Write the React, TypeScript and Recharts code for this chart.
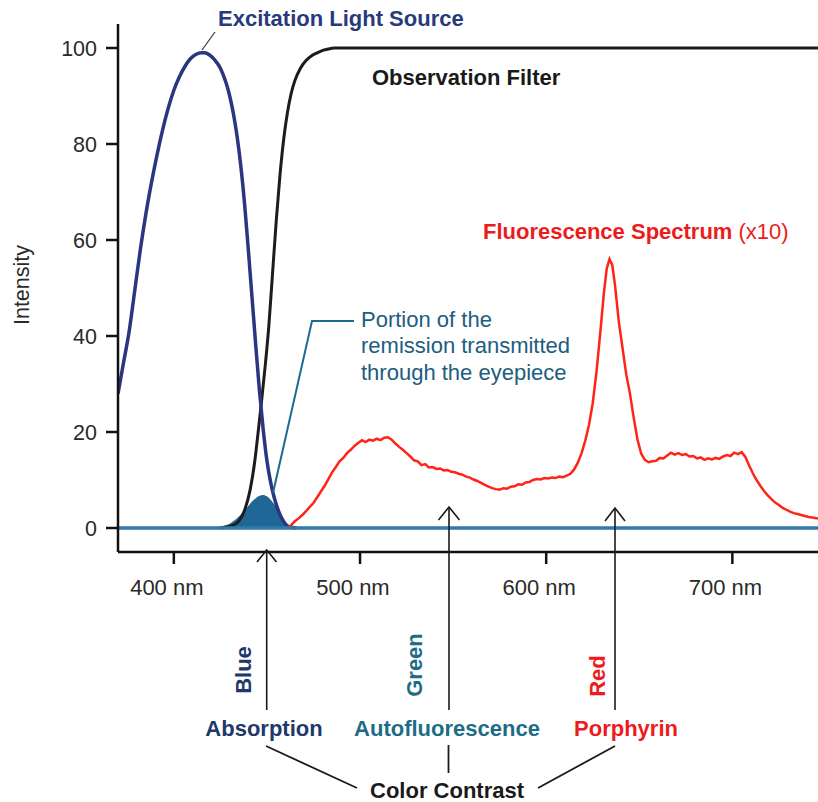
import React from 'react';
import { ComposedChart, Line, Area, XAxis, YAxis } from 'recharts';

const FONT = '"Liberation Sans", Arial, Helvetica, sans-serif';

// Excitation light source (nm, intensity)
const excitationWl = [370, 373, 376, 379, 382, 385, 388, 391, 394, 397, 400, 403, 406, 409, 412, 415, 416.5, 419, 422, 425, 428, 430, 432, 434, 436, 438, 440, 442, 444, 446, 448, 450, 452, 454, 456, 458, 460, 462, 466];
const excitationVal = [28, 34.5, 41, 49.5, 58, 65.5, 72, 77.8, 83, 87.5, 91.2, 94, 96.2, 97.8, 98.7, 99, 99, 98.6, 97.5, 95.8, 92.8, 90, 86.3, 81.5, 75.3, 67.5, 58, 48, 38, 28.5, 20.5, 14, 9.5, 6.2, 3.8, 2, 0.8, 0.2, 0];

// Observation filter transmission
const filterWl = [425, 428, 432, 435, 438, 441, 443.5, 445, 447, 449, 451, 453, 455, 457, 459, 461, 463, 465, 468, 471, 474, 477, 480, 483, 486, 490, 746];
const filterVal = [0, 0.2, 0.6, 1.5, 3.7, 8, 14, 19, 26, 33.5, 42, 53, 64, 73.5, 81, 86.5, 90.5, 93.2, 95.8, 97.4, 98.4, 99, 99.5, 99.8, 100, 100, 100];

// Portion of the remission transmitted through the eyepiece
const remissionWl = [418, 422, 426, 430, 433, 436, 439, 442, 444, 446, 448, 450, 452, 454, 456, 458, 460, 461.5];
const remissionVal = [0, 0.1, 0.4, 0.9, 1.7, 2.8, 4.1, 5.5, 6.2, 6.7, 6.9, 6.6, 5.9, 4.9, 3.6, 2.1, 0.7, 0];

// Fluorescence spectrum (x10)
const fluoWl = [461, 463, 465, 467, 469, 471, 473, 475, 477, 479, 481, 483, 485, 487, 489, 491, 493, 495, 497, 499, 501, 503, 505, 507, 509, 511, 513, 515, 517, 519, 521, 523, 525, 527, 529, 531, 533, 535, 537, 539, 541, 543, 545, 547, 549, 551, 553, 555, 557, 559, 561, 563, 565, 567, 569, 571, 573, 575, 577, 579, 581, 583, 585, 587, 589, 591, 593, 595, 597, 599, 601, 603, 605, 607, 609, 611, 613, 615, 617, 619, 621, 623, 625, 627, 629, 631, 632.5, 634, 635.5, 637, 639, 641, 643, 645, 647, 649, 651, 653, 655, 657, 659, 661, 663, 665, 667, 669, 671, 673, 675, 677, 679, 681, 683, 685, 687, 689, 691, 693, 695, 697, 699, 701, 703, 705, 707, 709, 711, 713, 715, 717, 719, 721, 723, 725, 727, 729, 731, 733, 735, 737, 739, 741, 743, 746];
const fluoVal = [0, 0.6, 1.4, 2.0, 2.7, 3.5, 4.4, 5.2, 6.4, 7.6, 8.8, 10.2, 11.6, 12.7, 13.9, 14.6, 15.6, 16.3, 17.1, 17.7, 18.3, 17.9, 18.4, 18.2, 18.6, 18.3, 18.8, 18.9, 18.4, 17.6, 16.9, 16.3, 15.6, 14.9, 14.1, 13.9, 13.1, 13.3, 12.6, 12.7, 12.3, 12.4, 12.0, 12.1, 11.7, 11.6, 11.3, 11.1, 10.7, 10.5, 10.1, 9.8, 9.4, 9.0, 8.6, 8.3, 8.1, 8.0, 8.3, 8.2, 8.6, 8.7, 9.1, 9.0, 9.5, 9.6, 10.0, 10.2, 10.1, 10.4, 10.3, 10.5, 10.4, 10.7, 10.6, 10.9, 11.3, 12.2, 13.6, 15.6, 18.2, 21.5, 26.0, 32.5, 40.5, 49.0, 54.0, 56.0, 54.8, 50.5, 43.0, 37.5, 32.0, 28.0, 23.0, 18.5, 15.5, 14.2, 13.7, 13.9, 14.0, 14.6, 14.5, 15.1, 15.7, 15.3, 15.6, 15.2, 15.4, 14.9, 15.0, 14.5, 14.7, 14.2, 14.5, 14.3, 14.6, 14.4, 14.9, 15.2, 15.0, 15.7, 15.4, 15.8, 14.8, 13.0, 11.4, 10.0, 8.8, 7.7, 6.8, 6.0, 5.3, 4.8, 4.2, 3.8, 3.4, 3.1, 2.9, 2.7, 2.5, 2.3, 2.2, 2.0];

// Baseline
const baselineWl = [370, 746];
const baselineVal = [0, 0];

const xTicks = [400, 500, 600, 700];
const yTicks = [0, 20, 40, 60, 80, 100];

const toPoints = (wl: number[], v: number[]) => wl.map((w, i) => ({ wl: w, v: v[i] }));

const excitation = toPoints(excitationWl, excitationVal);
const filter = toPoints(filterWl, filterVal);
const remission = toPoints(remissionWl, remissionVal);
const fluo = toPoints(fluoWl, fluoVal);
const baseline = toPoints(baselineWl, baselineVal);

const NAVY = '#22376a';
const TEAL = '#1d6c86';
const RED = '#ec1c1c';

export default function App() {
  return (
    <div style={{ position: 'absolute', left: 0, top: 0, width: 818, height: 802, background: '#fff', fontFamily: FONT }}>
      <ComposedChart width={818} height={802} margin={{ top: 24, right: 0, bottom: 210, left: 0 }}>
        <XAxis
          type="number"
          dataKey="wl"
          domain={[370, 746]}
          allowDataOverflow
          ticks={xTicks}
          tickFormatter={(v: number) => `${v} nm`}
          axisLine={{ stroke: '#111', strokeWidth: 2.5 }}
          tickLine={{ stroke: '#111', strokeWidth: 2.5 }}
          tickSize={12}
          tickMargin={15}
          height={40}
          tick={{ fontSize: 22, fill: '#2a2a2a', fontFamily: FONT, dx: -7 }}
        />
        <YAxis
          type="number"
          domain={[-5, 105]}
          allowDataOverflow
          ticks={yTicks}
          width={118}
          axisLine={{ stroke: '#111', strokeWidth: 2.5 }}
          tickLine={{ stroke: '#111', strokeWidth: 2.5 }}
          tickSize={12}
          tickMargin={9}
          tick={{ fontSize: 21.5, fill: '#2a2a2a', fontFamily: FONT }}
        />
        <Area data={remission} dataKey="v" type="monotone" baseValue={0} fill="#1f6796" fillOpacity={1} stroke="none" isAnimationActive={false} />
        <Line data={filter} dataKey="v" type="monotone" stroke="#1c1c1c" strokeWidth={3} dot={false} isAnimationActive={false} />
        <Line data={excitation} dataKey="v" type="monotone" stroke="#2b3680" strokeWidth={3.5} dot={false} isAnimationActive={false} />
        <Line data={fluo} dataKey="v" type="linear" stroke="#ff2418" strokeWidth={2.5} dot={false} isAnimationActive={false} />
        <Line data={baseline} dataKey="v" type="linear" stroke="#2d7ba6" strokeWidth={3.5} dot={false} isAnimationActive={false} />
      </ComposedChart>

      <svg width={818} height={802} style={{ position: 'absolute', left: 0, top: 0, pointerEvents: 'none' }} fontFamily={FONT}>
        {/* Axis title */}
        <text x={22} y={285} transform="rotate(-90 22 285)" textAnchor="middle" dominantBaseline="central" fontSize={21.5} fill="#2a2a2a">Intensity</text>

        {/* Top labels */}
        <text x={218} y={26} fontSize={22} fontWeight="bold" fill="#283a7c">Excitation Light Source</text>
        <line x1={202} y1={50} x2={215} y2={32} stroke="#333" strokeWidth={1.2} />
        <text x={372} y={85} fontSize={22} fontWeight="bold" fill="#1a1a1a">Observation Filter</text>
        <text x={483} y={239} fontSize={22} fill={RED}>
          <tspan fontWeight="bold">Fluorescence Spectrum</tspan>
          <tspan fontWeight="normal" dx={6}>(x10)</tspan>
        </text>

        {/* Remission annotation */}
        <text x={361} y={327} fontSize={22} fill="#1d5d80">Portion of the</text>
        <text x={361} y={353} fontSize={22} fill="#1d5d80">remission transmitted</text>
        <text x={361} y={380} fontSize={22} fill="#1d5d80">through the eyepiece</text>
        <polyline points="354,321 312,321 273,493" fill="none" stroke="#1d6a92" strokeWidth={2} />

        {/* Arrows */}
        <g stroke="#1a1a1a" strokeWidth={1.6} fill="none">
          <line x1={266.7} y1={550} x2={266.7} y2={710} />
          <polyline points="257,562 266.7,550 276.5,562" />
          <line x1={449} y1={507} x2={449} y2={710} />
          <polyline points="438.5,520 449,507 459.5,520" />
          <line x1={615} y1={508} x2={615} y2={710} />
          <polyline points="605,521 615,508 625,521" />
        </g>

        {/* Rotated colour labels */}
        <text x={243} y={670} transform="rotate(-90 243 670)" textAnchor="middle" dominantBaseline="central" fontSize={22} fontWeight="bold" fill={NAVY}>Blue</text>
        <text x={414} y={665} transform="rotate(-90 414 665)" textAnchor="middle" dominantBaseline="central" fontSize={22} fontWeight="bold" fill={TEAL}>Green</text>
        <text x={597} y={676} transform="rotate(-90 597 676)" textAnchor="middle" dominantBaseline="central" fontSize={22} fontWeight="bold" fill={RED}>Red</text>

        {/* Bottom labels */}
        <text x={264} y={736} textAnchor="middle" fontSize={22} fontWeight="bold" fill={NAVY}>Absorption</text>
        <text x={447} y={736} textAnchor="middle" fontSize={22} fontWeight="bold" fill={TEAL}>Autofluorescence</text>
        <text x={626} y={736} textAnchor="middle" fontSize={22} fontWeight="bold" fill={RED}>Porphyrin</text>

        <g stroke="#1a1a1a" strokeWidth={1.8}>
          <line x1={266} y1={746} x2={357} y2={788} />
          <line x1={448.5} y1={745} x2={448.5} y2={773} />
          <line x1={615} y1={746} x2={538} y2={788} />
        </g>
        <text x={447} y={798} textAnchor="middle" fontSize={22} fontWeight="bold" fill="#1a1a1a">Color Contrast</text>
      </svg>
    </div>
  );
}
